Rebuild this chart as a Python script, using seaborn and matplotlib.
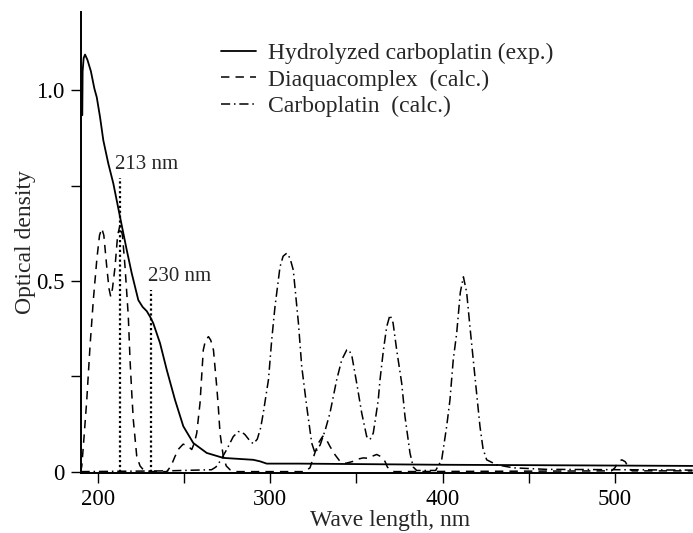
import numpy as np
import pandas as pd
import matplotlib
matplotlib.use("Agg")
import matplotlib.pyplot as plt
import seaborn as sns

# ---- data ----
hyd_x = [191.0, 191.2, 191.8, 192.6, 194.0, 196.0, 198.0, 199.4, 201.3, 203.2, 206.1, 209.0,
         212.9, 216.8, 219.7, 223.5, 226.0, 228.4, 230.5, 232.2, 236.1, 240.0, 244.8, 249.6,
         255.4, 263.2, 272.8, 290.2, 294.1, 298.0, 317.0, 400.0, 545.0]
hyd_y = [0.935, 1.05, 1.085, 1.094, 1.08, 1.05, 1.005, 0.982, 0.93, 0.869, 0.808, 0.756,
         0.668, 0.581, 0.52, 0.45, 0.432, 0.421, 0.405, 0.389, 0.337, 0.267, 0.188, 0.119,
         0.075, 0.049, 0.036, 0.031, 0.027, 0.021, 0.021, 0.018, 0.015]

diaq_x = [190.0, 190.7, 192.0, 193.6, 195.5, 197.4, 199.5, 201.0, 202.3, 203.5, 205.2, 206.5,
          207.5, 208.5, 210.0, 211.5, 212.9, 214.3, 215.8, 217.7, 218.7, 219.7, 220.6, 222.6,
          224.5, 226.4, 230.0, 240.0, 242.5, 244.8, 247.0, 249.5, 252.0, 254.5, 256.0, 257.4,
          259.3, 261.2, 262.5, 264.2, 265.5, 267.1, 269.0, 269.9, 270.9, 272.8, 274.5, 276.7,
          280.0, 320.0, 323.1, 326.0, 328.0, 330.5, 332.5, 334.7, 337.5, 340.5, 344.0, 348.2,
          351.0, 354.0, 357.0, 359.0, 361.8, 364.0, 366.6, 368.0, 369.5, 372.0, 498.0, 500.0,
          502.0, 504.0, 506.0, 508.0, 510.0, 545.0]
diaq_y = [0.0, 0.014, 0.09, 0.188, 0.33, 0.45, 0.56, 0.62, 0.638, 0.62, 0.537, 0.48,
          0.459, 0.48, 0.537, 0.62, 0.647, 0.62, 0.537, 0.407, 0.293, 0.206, 0.136, 0.04,
          0.015, 0.005, 0.0, 0.0, 0.015, 0.04, 0.06, 0.072, 0.068, 0.058, 0.075, 0.101,
          0.18, 0.319, 0.345, 0.354, 0.345, 0.319, 0.223, 0.171, 0.101, 0.04, 0.015, 0.005,
          0.0, 0.0, 0.01, 0.05, 0.075, 0.093, 0.085, 0.066, 0.045, 0.027, 0.022, 0.027,
          0.033, 0.036, 0.035, 0.04, 0.045, 0.04, 0.027, 0.012, 0.005, 0.0, 0.002, 0.01,
          0.026, 0.031, 0.026, 0.01, 0.002, 0.002]

carb_x = [190.0, 240.0, 266.0, 268.5, 270.9, 274.8, 278.6, 281.5, 283.5, 285.4, 288.0, 290.2,
          292.5, 294.5, 296.0, 299.0, 300.9, 302.8, 305.7, 307.5, 309.6, 311.5, 313.4, 316.4,
          318.3, 321.2, 324.1, 326.0, 329.0, 332.0, 334.7, 338.6, 341.5, 344.4, 345.5, 347.3,
          350.2, 353.1, 356.0, 357.9, 359.8, 360.8, 362.7, 363.7, 365.7, 367.6, 369.5, 371.3,
          373.4, 376.3, 378.2, 381.1, 383.0, 385.0, 396.0, 398.5, 399.5, 402.4, 404.3, 406.2,
          408.2, 410.3, 412.1, 414.0, 415.9, 418.8, 421.7, 423.5, 425.6, 431.4, 441.0, 460.0,
          545.0]
carb_y = [0.0, 0.002, 0.005, 0.012, 0.027, 0.058, 0.092, 0.105, 0.104, 0.097, 0.082, 0.073,
          0.085, 0.115, 0.154, 0.241, 0.346, 0.433, 0.537, 0.565, 0.573, 0.56, 0.529, 0.389,
          0.276, 0.171, 0.075, 0.049, 0.07, 0.11, 0.154, 0.241, 0.293, 0.319, 0.32, 0.306,
          0.232, 0.154, 0.092, 0.084, 0.101, 0.13, 0.188, 0.24, 0.319, 0.38, 0.411, 0.39,
          0.319, 0.232, 0.145, 0.049, 0.012, 0.003, 0.003, 0.023, 0.031, 0.119, 0.188, 0.293,
          0.363, 0.47, 0.511, 0.47, 0.38, 0.249, 0.119, 0.06, 0.031, 0.018, 0.01, 0.006,
          0.004]

marker_x = [213, 231]
marker_top = [0.77, 0.476]
marker_labels = ["213 nm", "230 nm"]

series_labels = ["Hydrolyzed carboplatin (exp.)", "Diaquacomplex  (calc.)", "Carboplatin  (calc.)"]
x_tick_vals = [200, 250, 300, 350, 400, 450, 500]
x_tick_labels = ["200", "", "300", "", "400", "", "500"]
y_tick_vals = [0, 0.25, 0.5, 0.75, 1.0]
y_tick_labels = ["0", "", "0.5", "", "1.0"]

# ---- style ----
sns.set_style("ticks")
plt.rcParams["font.family"] = ["Liberation Serif", "DejaVu Serif"]

fig = plt.figure(figsize=(6.93, 5.33), dpi=100)
ax = fig.add_axes([0.117, 0.113, 0.883, 0.864])

df_h = pd.DataFrame({"x": hyd_x, "y": hyd_y})
df_d = pd.DataFrame({"x": diaq_x, "y": diaq_y})
df_c = pd.DataFrame({"x": carb_x, "y": carb_y})

sns.lineplot(data=df_h, x="x", y="y", ax=ax, color="black", lw=1.3,
             linestyle="-", label=series_labels[0], sort=False, estimator=None)
sns.lineplot(data=df_d, x="x", y="y", ax=ax, color="black", lw=1.1,
             linestyle=(0, (5.5, 4)), label=series_labels[1], sort=False, estimator=None)
sns.lineplot(data=df_c, x="x", y="y", ax=ax, color="black", lw=1.1,
             linestyle=(0, (6, 2.5, 1, 2.5)), label=series_labels[2], sort=False, estimator=None)

ax.vlines(marker_x, [0, 0], marker_top, colors="black", linestyles=(0, (1, 1.2)), lw=1.6)
ax.text(marker_x[0] - 3.2, marker_top[0] + 0.012, marker_labels[0], fontsize=15, ha="left", va="bottom")
ax.text(marker_x[1] - 2.0, marker_top[1] + 0.012, marker_labels[1], fontsize=15, ha="left", va="bottom")

ax.set_xlim(190.3, 545.3)
ax.set_ylim(-0.003, 1.205)
ax.set_xticks(x_tick_vals)
ax.set_xticklabels(x_tick_labels)
ax.set_yticks(y_tick_vals)
ax.set_yticklabels(y_tick_labels)
ax.tick_params(direction="out", length=7, width=1.0, labelsize=16.5, colors="black")
ax.tick_params(axis="x", pad=5)
ax.tick_params(axis="y", pad=5)
for s in ["top", "right"]:
    ax.spines[s].set_visible(False)
for s in ["left", "bottom"]:
    ax.spines[s].set_linewidth(1.4)
    ax.spines[s].set_color("black")

ax.set_xlabel("Wave length, nm", fontsize=17)
ax.xaxis.set_label_coords(0.505, -0.08)
ax.set_ylabel("Optical density", fontsize=17, labelpad=0)

leg = ax.legend(loc="upper left", bbox_to_anchor=(0.214, 0.955), frameon=False, fontsize=17,
                handlelength=1.45, handletextpad=0.5, labelspacing=0.22, borderaxespad=0)

fig.savefig("out.png", dpi=100)
